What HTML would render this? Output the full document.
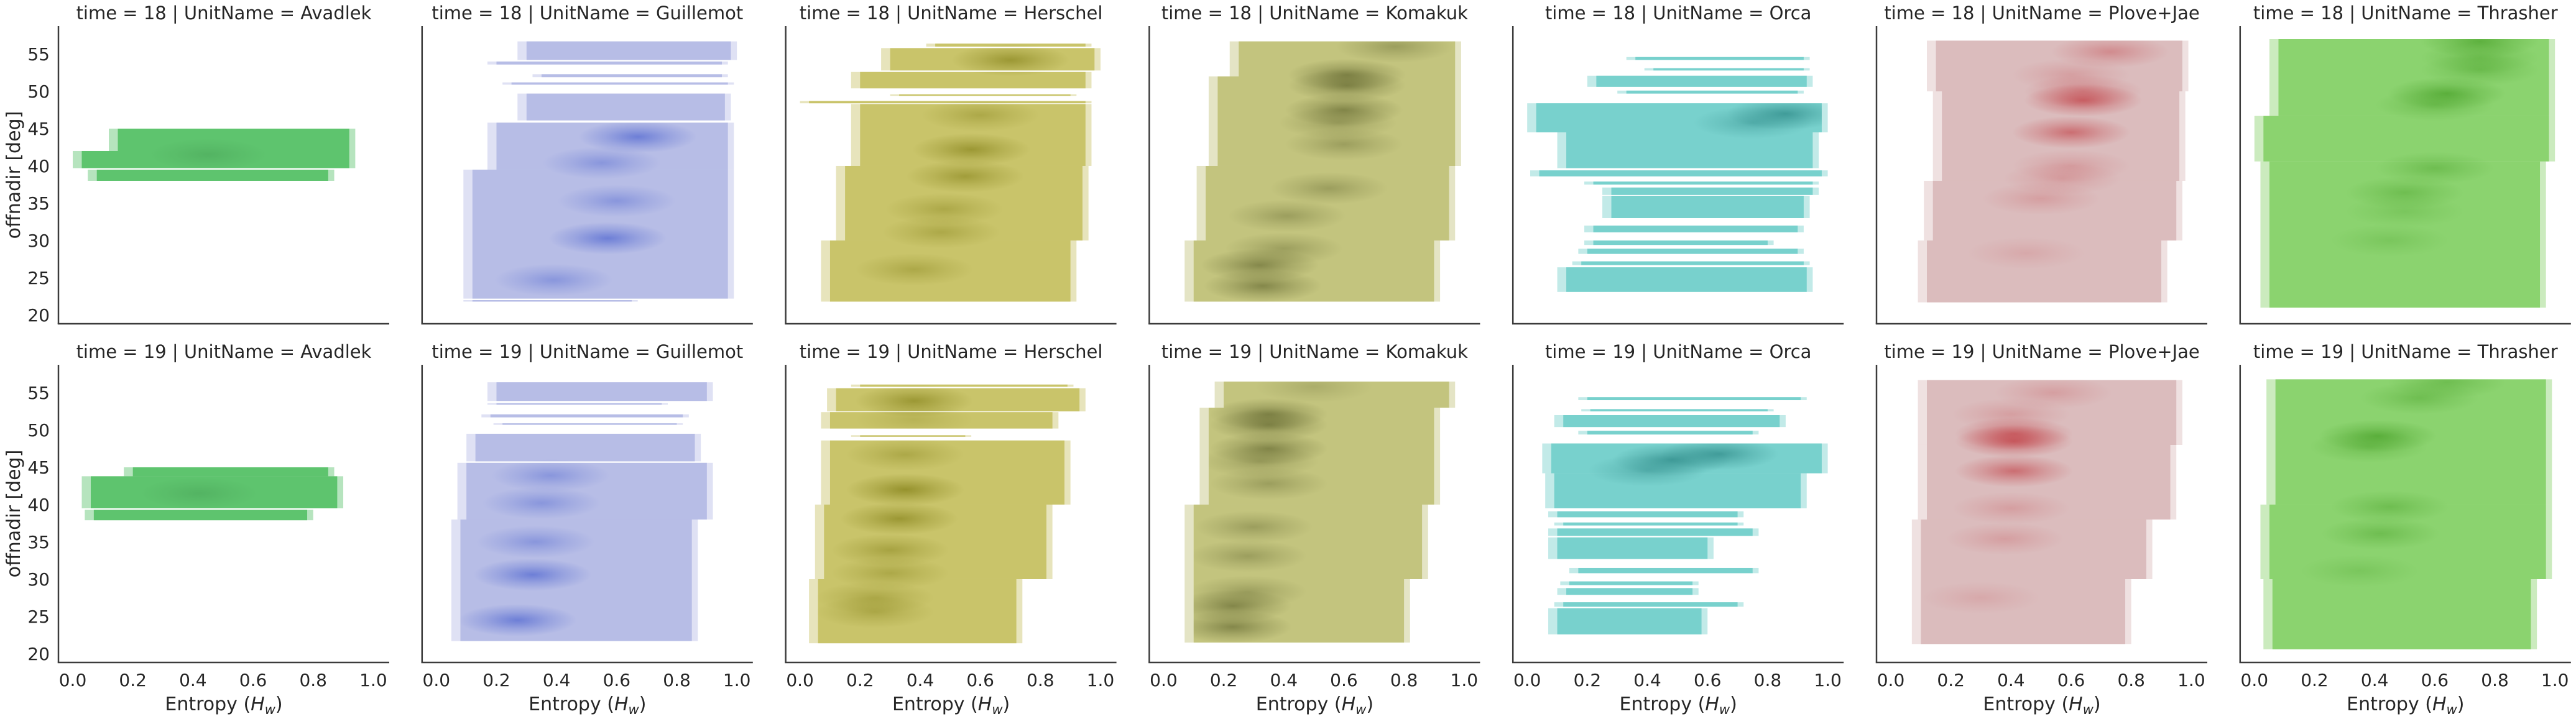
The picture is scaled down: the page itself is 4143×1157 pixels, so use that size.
<!DOCTYPE html>
<html><head><meta charset="utf-8"><style>
html,body{margin:0;padding:0;background:#fff;}
svg{display:block;font-family:"DejaVu Sans","Liberation Sans",sans-serif;}
</style></head><body>
<svg id="chart" xmlns="http://www.w3.org/2000/svg" width="4143" height="1157" viewBox="0 0 4143 1157">
<defs id="defs"></defs>
</svg>
<script>
// ---- data ----
const units = ["Avadlek","Guillemot","Herschel","Komakuk","Orca","Plove+Jae","Thrasher"];
const times = [18, 19];
const xTicks = [0.0, 0.2, 0.4, 0.6, 0.8, 1.0];
const xTickLabels = ["0.0","0.2","0.4","0.6","0.8","1.0"];
const yTicks = [20, 25, 30, 35, 40, 45, 50, 55];
const yTickLabels = ["20","25","30","35","40","45","50","55"];
const baseColors = ["#5ec46e","#b7bde6","#c9c46a","#c3c47e","#78d1cd","#dbbcbd","#8bd36f"];
const darkColors = ["#2e7a3a","#3c55cc","#7d7a10","#5a5f28","#1f7c7a","#c0393f","#3f9a1e"];

// bands: [offnadirTop, offnadirBottom, entropyLo, entropyHi]
const bands18 = [
 [[45,42,0.15,0.92],[42,39.7,0.03,0.92],[39.5,38,0.08,0.85]],
 [[56.7,54.2,0.3,0.98],[54.0,53.6,0.2,0.95],[52.3,51.9,0.35,0.95],[51.2,50.9,0.25,0.97],[49.7,46.1,0.3,0.96],[45.8,39.5,0.2,0.97],[39.5,22.2,0.12,0.97],[22.0,21.8,0.12,0.65]],
 [[56.4,56.0,0.45,0.95],[55.8,52.8,0.3,0.98],[52.6,50.4,0.2,0.95],[49.6,49.4,0.33,0.9],[48.7,48.4,0.03,0.95],[48.3,40,0.2,0.95],[40,30,0.15,0.94],[30,21.8,0.1,0.9]],
 [[56.7,52,0.25,0.97],[52,40,0.18,0.97],[40,30,0.14,0.95],[30,21.8,0.1,0.9]],
 [[54.6,54.2,0.36,0.92],[53.1,52.8,0.42,0.92],[52.1,50.6,0.23,0.93],[50.1,49.7,0.33,0.9],[48.4,44.5,0.03,0.98],[44.5,39.7,0.13,0.95],[39.4,38.6,0.04,0.98],[37.9,37.5,0.22,0.95],[37.1,36.1,0.28,0.95],[36.0,33.0,0.28,0.92],[32.0,31.1,0.22,0.9],[30.0,29.4,0.22,0.8],[28.9,28.2,0.2,0.9],[27.2,26.7,0.18,0.92],[26.4,23.1,0.13,0.93]],
 [[56.8,50,0.15,0.97],[50,38,0.17,0.96],[38,30,0.14,0.95],[30,21.7,0.12,0.9]],
 [[57,46.7,0.08,0.98],[46.7,40.6,0.03,0.98],[40.6,21,0.05,0.95]]
];
const bands19 = [
 [[45,43.8,0.2,0.85],[43.8,39.5,0.06,0.88],[39.3,37.9,0.07,0.78]],
 [[56.4,53.9,0.2,0.9],[53.6,53.4,0.2,0.75],[52.1,51.7,0.18,0.82],[50.9,50.7,0.22,0.8],[49.5,45.8,0.13,0.86],[45.6,38,0.1,0.9],[38,21.7,0.08,0.85]],
 [[56.1,55.8,0.2,0.89],[55.6,52.5,0.12,0.93],[52.4,50.2,0.1,0.84],[49.3,49.1,0.2,0.55],[48.6,40,0.1,0.88],[40,30,0.08,0.82],[30,21.4,0.06,0.72]],
 [[56.5,53,0.2,0.95],[53,40,0.15,0.9],[40,30,0.1,0.86],[30,21.5,0.1,0.8]],
 [[54.4,54.0,0.2,0.91],[52.8,52.5,0.21,0.8],[52.0,50.4,0.12,0.84],[49.9,49.4,0.2,0.75],[48.2,44.2,0.08,0.98],[44.2,39.5,0.09,0.91],[39.1,38.3,0.1,0.7],[37.6,37.2,0.12,0.7],[36.8,35.8,0.1,0.75],[35.6,32.7,0.1,0.6],[31.5,30.8,0.17,0.75],[29.7,29.2,0.14,0.55],[28.8,27.9,0.13,0.55],[26.9,26.3,0.12,0.7],[26.1,22.6,0.1,0.58]],
 [[56.7,48,0.12,0.95],[48,38,0.12,0.93],[38,30,0.1,0.85],[30,21.3,0.1,0.78]],
 [[56.8,40,0.07,0.97],[40,30,0.05,0.97],[30,20.6,0.06,0.92]]
];
// density peaks: [entropy, offnadir, strength]
const peaks18 = [
 [[0.45,41.5,0.3]],
 [[0.67,43.9,0.8],[0.55,40.4,0.5],[0.6,35.3,0.5],[0.57,30.3,0.8],[0.39,24.7,0.5]],
 [[0.7,54.2,0.8],[0.6,46.8,0.5],[0.57,42.2,0.8],[0.55,38.6,0.7],[0.48,34.2,0.5],[0.47,31.1,0.5],[0.38,26.1,0.5]],
 [[0.77,56,0.5],[0.61,52.2,0.8],[0.61,50.8,0.8],[0.6,47.5,0.8],[0.58,45.8,0.5],[0.6,42.9,0.5],[0.55,37,0.5],[0.41,33.3,0.5],[0.4,28.9,0.5],[0.32,26.7,0.8],[0.33,23.9,0.8]],
 [[0.86,47,0.8],[0.75,45.8,0.5]],
 [[0.73,55.3,0.5],[0.6,52.2,0.3],[0.64,50,0.5],[0.64,48.8,0.9],[0.6,44.5,0.8],[0.6,40,0.3],[0.57,38.3,0.3],[0.5,35.6,0.3],[0.45,28.3,0.2]],
 [[0.75,56.7,0.8],[0.75,54.5,0.5],[0.75,52.9,0.5],[0.64,49.7,0.8],[0.6,48.2,0.5],[0.6,39.7,0.5],[0.5,36.4,0.5],[0.5,33.9,0.3],[0.45,30,0.3]]
];
const peaks19 = [
 [[0.42,41.5,0.3]],
 [[0.38,43.9,0.5],[0.35,40.2,0.5],[0.33,35,0.5],[0.32,30.6,0.8],[0.27,24.5,0.8]],
 [[0.38,53.9,0.8],[0.38,51.4,0.3],[0.35,46.7,0.5],[0.35,42,0.9],[0.33,38.1,0.8],[0.3,33.9,0.6],[0.3,30.8,0.5],[0.25,27.5,0.5],[0.25,25.6,0.5]],
 [[0.5,55.8,0.3],[0.35,52.1,0.8],[0.35,50.7,0.8],[0.35,47.5,0.8],[0.32,45.8,0.5],[0.35,42.8,0.5],[0.3,37,0.5],[0.28,33.1,0.5],[0.28,28.3,0.5],[0.23,26.4,0.8],[0.23,23.6,0.8]],
 [[0.64,46.8,0.8],[0.48,46,0.8],[0.4,44.6,0.5]],
 [[0.54,55,0.3],[0.4,52.1,0.3],[0.41,49.5,0.8],[0.41,48.5,0.9],[0.41,44.5,0.8],[0.4,39.5,0.3],[0.38,35.4,0.3],[0.3,27.5,0.2]],
 [[0.64,56.4,0.5],[0.55,54.3,0.5],[0.41,49.2,0.8],[0.38,47.8,0.5],[0.45,39.7,0.5],[0.42,36.1,0.5],[0.35,31.1,0.3]]
];

// ---- layout ----
const NS = "http://www.w3.org/2000/svg";
const svg = document.getElementById("chart");
const defs = document.getElementById("defs");
const panelLeft0 = 94, panelStep = 584.8, panelW = 532;
const rowTop = [42, 587], rowBottom = [521, 1066];
const xDom = [-0.0476, 1.053], yDom = [18.83, 58.75];
function xScale(c, v){ const l = panelLeft0 + c*panelStep; return l + (v - xDom[0])/(xDom[1]-xDom[0])*panelW; }
function yScale(r, v){ return rowBottom[r] - (v - yDom[0])/(yDom[1]-yDom[0])*(rowBottom[r]-rowTop[r]); }
function mk(tag, attrs, parent){ const e = document.createElementNS(NS, tag); for (const k in attrs) e.setAttribute(k, attrs[k]); (parent||svg).appendChild(e); return e; }

baseColors.forEach((bc, c) => {
  const g = mk("radialGradient", {id: "peak"+c}, defs);
  mk("stop", {offset: "0", "stop-color": darkColors[c], "stop-opacity": "0.75"}, g);
  mk("stop", {offset: "0.55", "stop-color": darkColors[c], "stop-opacity": "0.3"}, g);
  mk("stop", {offset: "1", "stop-color": darkColors[c], "stop-opacity": "0"}, g);
});

const allBands = [bands18, bands19];
const allPeaks = [peaks18, peaks19];
for (let r = 0; r < 2; r++) {
  for (let c = 0; c < units.length; c++) {
    const left = panelLeft0 + c*panelStep;
    const grp = mk("g", {});
    
    
    const clip = mk("clipPath", {id: "clip" + r + "_" + c}, defs);
    allBands[r][c].forEach(b => {
      const y1 = yScale(r, b[0]), y2 = yScale(r, b[1]);
      const fr = mk("rect", {x: xScale(c, b[2]-0.03), y: y1, width: xScale(c, b[3]+0.02)-xScale(c, b[2]-0.03), height: Math.max(1, y2-y1), fill: baseColors[c], opacity: 0.45}, grp);
      
      
      const body = mk("rect", {x: xScale(c, b[2]), y: y1, width: xScale(c, b[3])-xScale(c, b[2]), height: Math.max(1, y2-y1), fill: baseColors[c]}, grp);
      
      
      mk("rect", {x: xScale(c, b[2]), y: y1, width: xScale(c, b[3])-xScale(c, b[2]), height: Math.max(1, y2-y1)}, clip);
    });
    const pg = mk("g", {"clip-path": "url(#clip" + r + "_" + c + ")"}, grp);
    
    
    allPeaks[r][c].forEach(p => {
      const e = mk("ellipse", {cx: xScale(c, p[0]), cy: yScale(r, p[1]), rx: 95, ry: 26, fill: "url(#peak"+c+")", opacity: p[2]}, pg);
      
      
    });
    const sl = mk("line", {x1: left, y1: rowTop[r], x2: left, y2: rowBottom[r], stroke: "#3b3b3b", "stroke-width": 2.5}, grp);
    
    
    const sb = mk("line", {x1: left-1.25, y1: rowBottom[r], x2: left+panelW, y2: rowBottom[r], stroke: "#3b3b3b", "stroke-width": 2.5}, grp);
    
    
    const t = mk("text", {x: left + panelW/2, y: rowTop[r] - 11, "text-anchor": "middle", "font-size": 29, fill: "#262626"}, grp);
    t.textContent = "time = " + times[r] + " | UnitName = " + units[c];
    
    
    if (c === 0) {
      yTicks.forEach((v, i) => {
        const tl = mk("text", {x: 80, y: yScale(r, v) + 10, "text-anchor": "end", "font-size": 28, fill: "#262626"}, grp);
        tl.textContent = yTickLabels[i];
        
        
      });
      const yl = mk("text", {x: 0, y: 0, transform: "translate(32," + ((rowTop[r]+rowBottom[r])/2) + ") rotate(-90)", "text-anchor": "middle", "font-size": 30, fill: "#262626"}, grp);
      yl.textContent = "offnadir [deg]";
      
      
    }
    if (r === 1) {
      xTicks.forEach((v, i) => {
        const tl = mk("text", {x: xScale(c, v), y: 1104, "text-anchor": "middle", "font-size": 28, fill: "#262626"}, grp);
        tl.textContent = xTickLabels[i];
        
        
      });
      const xl = mk("text", {x: left + panelW/2, y: 1143, "text-anchor": "middle", "font-size": 30, fill: "#262626"}, grp);
      xl.innerHTML = 'Entropy (<tspan font-style="italic">H</tspan><tspan font-style="italic" font-size="21" dy="6">w</tspan><tspan dy="-6">)</tspan>';
      
      
    }
  }
}
</script>
</body></html>
